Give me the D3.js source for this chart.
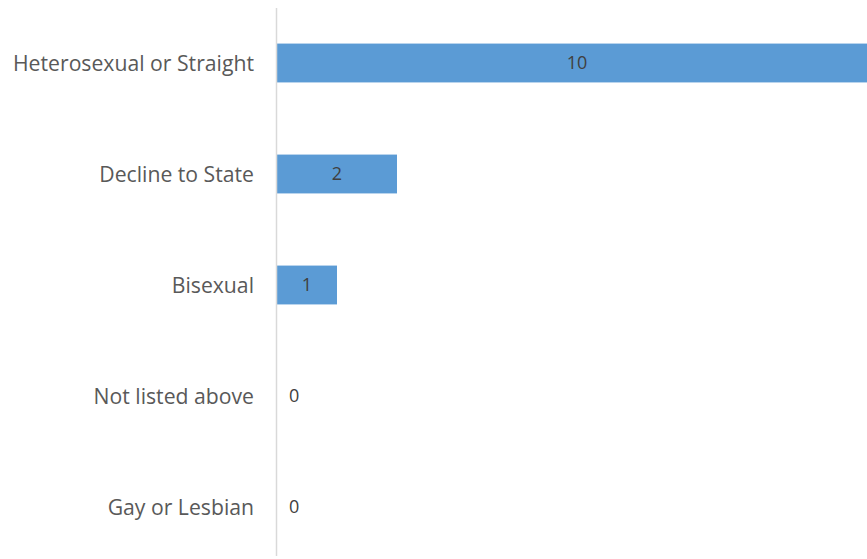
<!DOCTYPE html>
<html><head><meta charset="utf-8">
<script src="https://cdn.jsdelivr.net/npm/d3@7"></script>
<style>body{margin:0;background:#fff;overflow:hidden}</style>
</head><body>
<svg id="chart" width="867" height="559"></svg>
<script>
const categories = ["Heterosexual or Straight","Decline to State","Bisexual","Not listed above","Gay or Lesbian"];
const values = [10, 2, 1, 0, 0];

const svg = d3.select("#chart");
const x = d3.scaleLinear().domain([0, 10]).range([277, 877]);
const y = d3.scaleBand().domain(categories).range([7.5, 562.5]).paddingInner(0.65).paddingOuter(0.325);

const font = "'Open Sans', sans-serif";

svg.selectAll("rect.bar").data(categories).join("rect")
  .attr("class","bar")
  .attr("x", x(0))
  .attr("y", d => y(d))
  .attr("width", (d,i) => x(values[i]) - x(0))
  .attr("height", y.bandwidth())
  .attr("fill", "#5b9bd5");

// axis line
svg.append("line").attr("x1", 276.5).attr("x2", 276.5).attr("y1", 8).attr("y2", 556)
  .attr("stroke", "#d9d9d9").attr("stroke-width", 1.5);

// category labels
const yAxis = d3.axisLeft(y).tickSize(0).tickPadding(22);
const g = svg.append("g").attr("transform", "translate(276,0)").call(yAxis);
g.select(".domain").remove();
g.selectAll("text").attr("font-family", font).attr("font-size", 21.2).attr("fill", "#595959")
  .attr("dy", "0.36em");

// data labels
svg.selectAll("text.val").data(categories).join("text")
  .attr("class","val")
  .attr("x", (d,i) => values[i] > 0 ? (x(0) + x(values[i]))/2 : x(0) + 12)
  .attr("y", d => y(d) + y.bandwidth()/2)
  .attr("dy", "0.36em")
  .attr("text-anchor", (d,i) => values[i] > 0 ? "middle" : "start")
  .attr("font-family", font).attr("font-size", 18)
  .attr("fill", "#404040")
  .text((d,i) => values[i]);
</script>
</body></html>
